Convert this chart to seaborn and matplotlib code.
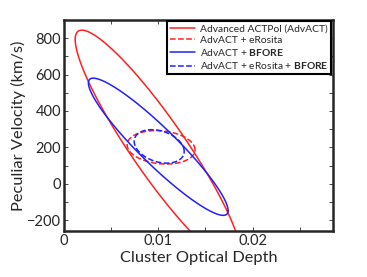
import numpy as np
import pandas as pd
import seaborn as sns
import matplotlib.pyplot as plt
from matplotlib.ticker import MultipleLocator

# Fisher ellipses: centre, 2-sigma half widths and correlation
labels = ['Advanced ACTPol (AdvACT)',
          'AdvACT + eRosita',
          r'AdvACT + $\mathbf{BFORE}$',
          r'AdvACT + eRosita + $\mathbf{BFORE}$']
tau_centre = [0.0100, 0.0103, 0.0100, 0.0101]
v_centre = [200, 200, 203, 205]
tau_width = [0.0088, 0.0036, 0.0074, 0.00265]
v_width = [644, 92, 377, 92]
rho = [-0.92, -0.15, -0.93, -0.30]
colors = ['#ff2020', '#ff2020', '#2020ff', '#2020ff']
styles = ['-', '--', '-', '--']

sns.set_style('ticks')
plt.rcParams['font.family'] = ['Lato', 'DejaVu Sans']
plt.rcParams['mathtext.fontset'] = 'custom'
plt.rcParams['mathtext.bf'] = 'Lato:bold'

fig, ax = plt.subplots(figsize=(3.67, 2.77), dpi=100)
fig.subplots_adjust(left=0.174, right=0.907, top=0.928, bottom=0.166)

t = np.linspace(0, 2 * np.pi, 400)
for i in range(len(labels)):
    # ellipse from correlated parametrisation
    x = tau_centre[i] + tau_width[i] * np.cos(t)
    y = v_centre[i] + v_width[i] * np.cos(t - np.arccos(rho[i]))
    df = pd.DataFrame({'tau': x, 'v': y})
    sns.lineplot(data=df, x='tau', y='v', sort=False, estimator=None, ax=ax,
                 color=colors[i], linestyle=styles[i], linewidth=1.1, label=labels[i])

ax.set_xlim(0, 0.0285)
ax.set_ylim(-260, 900)
ax.xaxis.set_major_locator(MultipleLocator(0.01))
ax.xaxis.set_minor_locator(MultipleLocator(0.005))
ax.yaxis.set_major_locator(MultipleLocator(200))
ax.yaxis.set_minor_locator(MultipleLocator(100))
ax.xaxis.set_major_formatter(plt.FuncFormatter(lambda v, p: '0' if v == 0 else f'{v:g}'))
ax.tick_params(which='both', direction='in', top=True, right=True, length=3, width=0.6,
               labelsize=10.5, pad=2)
for s in ax.spines.values():
    s.set_linewidth(1.8)
ax.set_xlabel('Cluster Optical Depth', fontsize=11.8, labelpad=2)
ax.set_ylabel('Peculiar Velocity (km/s)', fontsize=11.8, labelpad=1)

leg = ax.legend(loc='upper right', fontsize=7.4, handlelength=2.4, labelspacing=0.2,
                borderaxespad=0.15, borderpad=0.3, handletextpad=0.5,
                fancybox=False, framealpha=1, edgecolor='black')
leg.get_frame().set_linewidth(1.5)

plt.savefig('out.png', dpi=100)
